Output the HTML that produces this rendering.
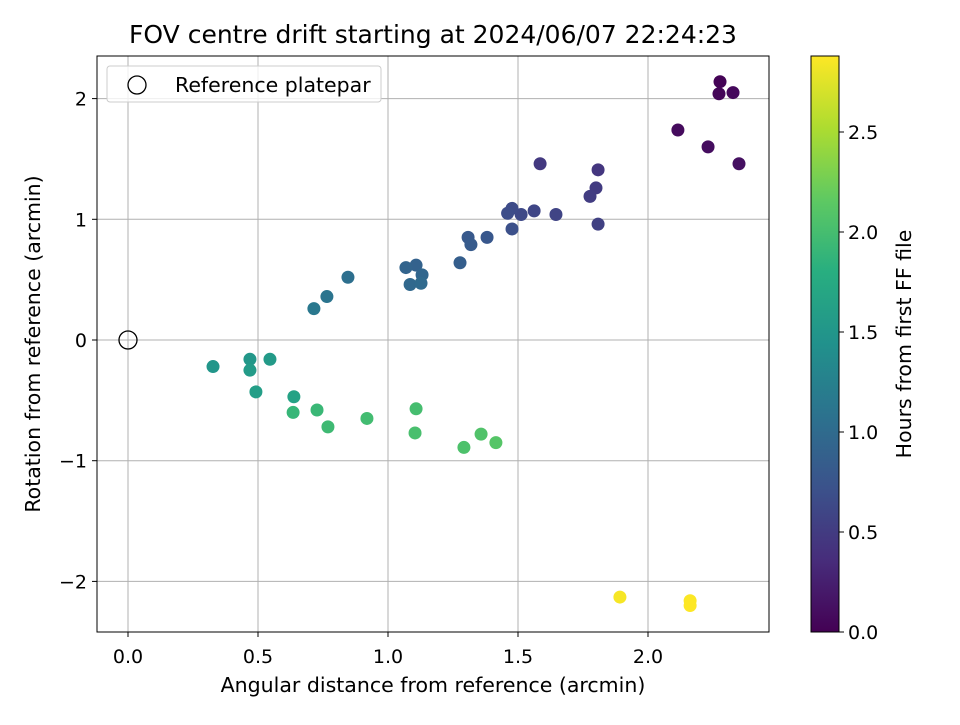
<!DOCTYPE html>
<html><head><meta charset="utf-8"><style>
body{margin:0;background:#fff;}
svg text{font-family:"DejaVu Sans","Liberation Sans",sans-serif;fill:#000;}
</style></head><body>
<svg id="chart" width="960" height="720" viewBox="0 0 960 720">
<defs><linearGradient id="vir" x1="0" y1="1" x2="0" y2="0">
<stop offset="0" stop-color="#440154"/><stop offset="0.125" stop-color="#472d7b"/><stop offset="0.25" stop-color="#3b528b"/><stop offset="0.375" stop-color="#2c728e"/><stop offset="0.5" stop-color="#21918c"/><stop offset="0.625" stop-color="#28ae80"/><stop offset="0.75" stop-color="#5ec962"/><stop offset="0.875" stop-color="#addc30"/><stop offset="1" stop-color="#fde725"/></linearGradient></defs>
<rect x="0" y="0" width="960" height="720" fill="#fff"/>
<g id="grid"></g><g id="points"></g><g id="axes"></g>
</svg>
<script>
const xs=[2.277,2.273,2.327,2.115,2.231,2.35,1.808,1.585,1.80,1.777,1.808,1.646,1.562,1.512,1.477,1.46,1.477,1.381,1.308,1.319,1.277,1.108,1.069,1.131,1.085,1.127,0.846,0.765,0.715,0.327,0.469,0.546,0.469,0.492,0.638,0.635,0.727,0.769,0.919,1.108,1.104,1.292,1.358,1.415,1.892,2.162,2.162];
const ys=[2.14,2.04,2.05,1.74,1.60,1.46,1.41,1.46,1.26,1.19,0.96,1.04,1.07,1.04,1.09,1.05,0.92,0.85,0.85,0.79,0.64,0.62,0.60,0.54,0.46,0.47,0.52,0.36,0.26,-0.22,-0.16,-0.16,-0.25,-0.43,-0.47,-0.60,-0.58,-0.72,-0.65,-0.57,-0.77,-0.89,-0.78,-0.85,-2.13,-2.16,-2.20];
const hours=[0.02,0.04,0.06,0.08,0.10,0.12,0.45,0.48,0.50,0.52,0.55,0.58,0.60,0.63,0.65,0.67,0.70,0.78,0.80,0.82,0.86,0.90,0.92,0.95,0.97,0.99,1.05,1.10,1.15,1.50,1.52,1.55,1.57,1.60,1.65,1.90,1.92,1.95,1.98,2.00,2.02,2.05,2.07,2.10,2.85,2.87,2.88];
const xTicks=[0.0,0.5,1.0,1.5,2.0];
const yTicks=[-2,-1,0,1,2];
const cTicks=[0.0,0.5,1.0,1.5,2.0,2.5];
const L=97,R=769,T=56,B=632,CMAX=2.88;
const X=v=>128+v*260, Y=v=>340-v*120.7, C=v=>632-v*(576/CMAX);
const NS='http://www.w3.org/2000/svg';
function mk(t,a,p){const e=document.createElementNS(NS,t);for(const k in a)e.setAttribute(k,a[k]);p.appendChild(e);return e;}
const vir=['#440154','#472d7b','#3b528b','#2c728e','#21918c','#28ae80','#5ec962','#addc30','#fde725'];
function col(v){let t=Math.max(0,Math.min(1,v/CMAX))*8;let i=Math.min(7,Math.floor(t)),f=t-i;
const a=vir[i],b=vir[i+1];const h=(s,k)=>parseInt(s.substr(1+2*k,2),16);
return 'rgb('+[0,1,2].map(k=>Math.round(h(a,k)+(h(b,k)-h(a,k))*f)).join(',')+')';}
const g=document.getElementById('grid'),pg=document.getElementById('points'),ax=document.getElementById('axes');
xTicks.forEach(v=>{const l=mk('line',{x1:X(v),x2:X(v),y1:T,y2:B,stroke:'#b0b0b0','stroke-width':1},g);

mk('line',{x1:X(v),x2:X(v),y1:B,y2:B+5,stroke:'#000'},ax);
const t=mk('text',{x:X(v),y:B+31,'text-anchor':'middle','font-size':19},ax);t.textContent=v.toFixed(1);
});
yTicks.forEach(v=>{const l=mk('line',{x1:L,x2:R,y1:Y(v),y2:Y(v),stroke:'#b0b0b0','stroke-width':1},g);

mk('line',{x1:L-5,x2:L,y1:Y(v),y2:Y(v),stroke:'#000'},ax);
const t=mk('text',{x:L-10,y:Y(v)+7,'text-anchor':'end','font-size':19},ax);t.textContent=v<0?'\u2212'+(-v):String(v);
});
xs.forEach((x,i)=>{const c=mk('circle',{cx:X(x),cy:Y(ys[i]),r:6.5,fill:col(hours[i])},pg);
});
const ref=mk('circle',{cx:X(0),cy:Y(0),r:9,fill:'none',stroke:'#000','stroke-width':1.3},pg);

const fr=mk('rect',{x:L,y:T,width:R-L,height:B-T,fill:'none',stroke:'#000','stroke-width':1},ax);

const lg=mk('g',{},ax);
mk('rect',{x:107,y:66,width:274,height:36,rx:3,fill:'#fff','fill-opacity':0.8,stroke:'#ccc'},lg);
mk('circle',{cx:137,cy:85,r:9,fill:'none',stroke:'#000','stroke-width':1.3},lg);
const lt=mk('text',{x:175,y:92,'font-size':20.5},lg);lt.textContent='Reference platepar';
const ti=mk('text',{x:433,y:43,'text-anchor':'middle','font-size':25},ax);ti.textContent='FOV centre drift starting at 2024/06/07 22:24:23';

const xl=mk('text',{x:433,y:692,'text-anchor':'middle','font-size':20.5},ax);xl.textContent='Angular distance from reference (arcmin)';

const yl=mk('text',{x:0,y:0,'text-anchor':'middle','font-size':20.5,transform:'translate(40,344) rotate(-90)'},ax);yl.textContent='Rotation from reference (arcmin)';

const cb=mk('rect',{x:811,y:T,width:28,height:B-T,fill:'url(#vir)',stroke:'#000','stroke-width':1},ax);

cTicks.forEach(v=>{mk('line',{x1:839,x2:844,y1:C(v),y2:C(v),stroke:'#000'},ax);
const t=mk('text',{x:848,y:C(v)+7,'font-size':19},ax);t.textContent=v.toFixed(1);
});
const cl=mk('text',{x:0,y:0,'text-anchor':'middle','font-size':20.5,transform:'translate(911,344) rotate(-90)'},ax);cl.textContent='Hours from first FF file';

</script>
</body></html>
